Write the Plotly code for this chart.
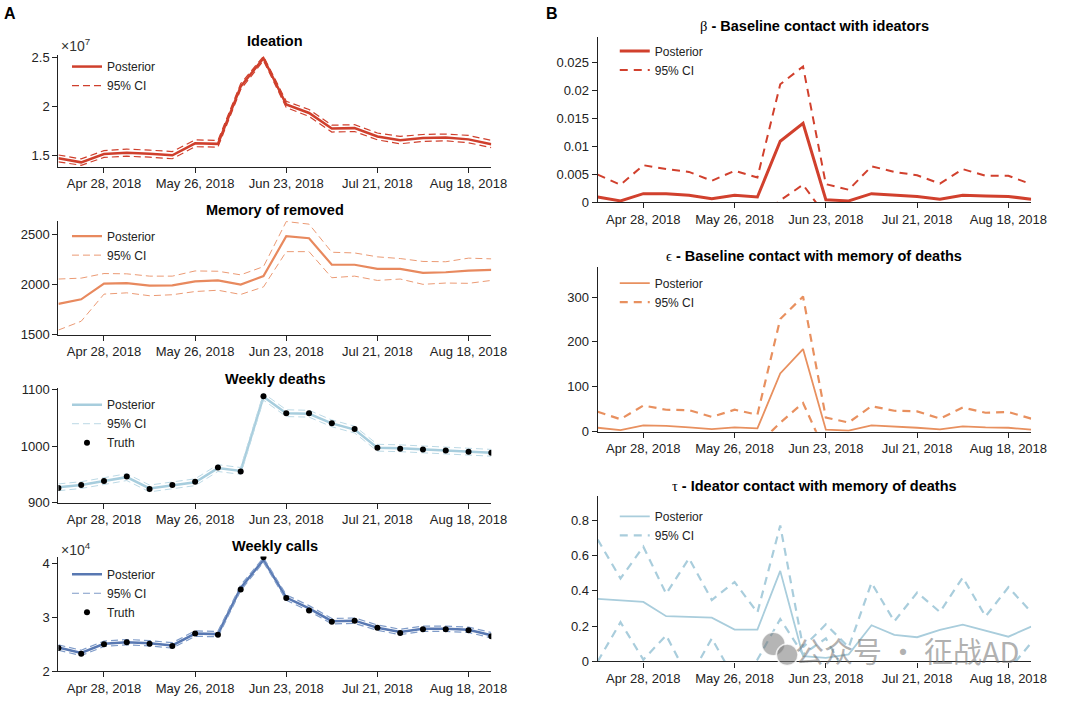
import plotly.graph_objects as go

W, H = 1080, 704

# ---------------- data ----------------
dates = ["2018-04-14", "2018-04-21", "2018-04-28", "2018-05-05", "2018-05-12",
         "2018-05-19", "2018-05-26", "2018-06-02", "2018-06-09", "2018-06-16",
         "2018-06-23", "2018-06-30", "2018-07-07", "2018-07-14", "2018-07-21",
         "2018-07-28", "2018-08-04", "2018-08-11", "2018-08-18", "2018-08-25"]
tick_dates = ["2018-04-28", "2018-05-26", "2018-06-23", "2018-07-21", "2018-08-18"]

# Ideation (units of 1e7)
ideation_post = [1.467, 1.425, 1.510, 1.523, 1.513, 1.497, 1.620, 1.614, 2.200, 2.490,
                 2.017, 1.930, 1.770, 1.775, 1.690, 1.650, 1.675, 1.680, 1.660, 1.610]
ideation_hi = [1.500, 1.460, 1.545, 1.560, 1.550, 1.535, 1.655, 1.650, 2.230, 2.510,
               2.050, 1.965, 1.805, 1.810, 1.725, 1.690, 1.710, 1.715, 1.700, 1.650]
ideation_lo = [1.430, 1.395, 1.475, 1.488, 1.478, 1.462, 1.585, 1.580, 2.170, 2.465,
               1.985, 1.895, 1.735, 1.740, 1.655, 1.615, 1.640, 1.645, 1.625, 1.575]

# Memory of removed
memory_post = [1807, 1853, 2010, 2016, 1990, 1993, 2033, 2042, 2000, 2085,
               2484, 2464, 2199, 2199, 2157, 2157, 2118, 2124, 2140, 2147]
memory_hi = [2056, 2065, 2111, 2108, 2085, 2085, 2137, 2134, 2098, 2180,
             2631, 2605, 2324, 2317, 2278, 2261, 2232, 2229, 2265, 2258]
memory_lo = [1546, 1634, 1905, 1918, 1889, 1899, 1931, 1944, 1902, 1977,
             2330, 2330, 2069, 2085, 2042, 2056, 2003, 2016, 2013, 2042]

# Weekly deaths
deaths_truth = [926, 931, 938, 946, 924, 931, 937, 962, 955, 1088,
                1058, 1058, 1040, 1030, 997, 995, 994, 992, 990, 988]
deaths_post = [927, 931, 938, 945, 925, 930, 936, 961, 956, 1087,
               1058, 1057, 1040, 1029, 997, 996, 994, 992, 990, 988]
deaths_hi = [933, 937, 944, 951, 931, 936, 942, 967, 962, 1093,
             1064, 1063, 1046, 1035, 1003, 1002, 1000, 998, 996, 994]
deaths_lo = [921, 925, 932, 939, 919, 924, 930, 955, 950, 1081,
             1052, 1051, 1034, 1023, 991, 990, 988, 986, 984, 982]

# Weekly calls (units of 1e4)
calls_truth = [2.43, 2.325, 2.50, 2.54, 2.51, 2.47, 2.70, 2.68, 3.52, 4.12,
               3.36, 3.13, 2.92, 2.94, 2.81, 2.71, 2.78, 2.78, 2.76, 2.65]
calls_post = [2.44, 2.34, 2.51, 2.54, 2.52, 2.48, 2.70, 2.69, 3.55, 4.07,
              3.37, 3.17, 2.93, 2.94, 2.81, 2.73, 2.79, 2.79, 2.77, 2.67]
calls_hi = [2.49, 2.39, 2.56, 2.59, 2.57, 2.53, 2.75, 2.74, 3.60, 4.11,
            3.42, 3.22, 2.98, 2.99, 2.86, 2.78, 2.84, 2.84, 2.82, 2.72]
calls_lo = [2.39, 2.29, 2.46, 2.49, 2.47, 2.43, 2.65, 2.64, 3.50, 4.03,
            3.32, 3.12, 2.88, 2.89, 2.76, 2.68, 2.74, 2.74, 2.72, 2.62]

# beta - baseline contact with ideators (lower CI at/below the 0 floor is hidden)
beta_post = [0.0009, 0.0002, 0.0015, 0.0015, 0.0012, 0.0006, 0.0012, 0.0009, 0.0109, 0.0141,
             0.0004, 0.0002, 0.0015, 0.0013, 0.0010, 0.0005, 0.0012, 0.0011, 0.0010, 0.0005]
beta_hi = [0.0049, 0.0031, 0.0066, 0.0059, 0.0054, 0.0038, 0.0056, 0.0044, 0.0211, 0.0243,
           0.0032, 0.0022, 0.0064, 0.0054, 0.0048, 0.0033, 0.0059, 0.0047, 0.0047, 0.0032]
beta_lo = [-0.0005, -0.0005, -0.0005, -0.0005, -0.0005, -0.0005, -0.0005, -0.003, 0.0003, 0.0031,
           -0.0025, -0.0005, -0.0005, -0.0005, -0.0005, -0.0005, -0.0005, -0.0005, -0.0005, -0.0005]

# epsilon - baseline contact with memory of deaths
eps_post = [8.7, 3.6, 13.8, 13.0, 9.5, 5.8, 9.5, 7.3, 129.6, 184.0,
            4.4, 2.2, 13.8, 11.7, 8.7, 5.1, 11.7, 9.5, 8.7, 4.4]
eps_hi = [44.4, 27.7, 58.3, 48.8, 48.0, 32.8, 48.8, 37.9, 251.0, 301.0,
          31.3, 20.4, 56.8, 46.6, 45.2, 29.1, 53.9, 42.2, 43.7, 29.1]
eps_lo = [-5, -5, -5, -5, -5, -5, -5, -30, 20, 64,
          -48, -5, -5, -5, -5, -5, -5, -5, -5, -5]

# tau - ideator contact with memory of deaths
tau_post = [0.354, 0.344, 0.337, 0.256, 0.250, 0.248, 0.180, 0.180, 0.513, 0.030,
            0.020, 0.040, 0.205, 0.150, 0.137, 0.178, 0.208, 0.174, 0.140, 0.197]
tau_hi = [0.690, 0.470, 0.650, 0.383, 0.584, 0.348, 0.450, 0.277, 0.770, 0.080,
          0.210, 0.080, 0.445, 0.227, 0.390, 0.280, 0.476, 0.255, 0.420, 0.280]
tau_lo = [0.000, 0.222, 0.010, 0.148, -0.100, 0.130, -0.100, 0.010, 0.240, 0.040,
          0.130, -0.100, -0.100, -0.100, -0.100, -0.100, -0.100, -0.100, -0.050, 0.105]

# ---------------- layout helpers ----------------
FONT = "Liberation Sans, Arial, Helvetica, sans-serif"
AXC = "#222222"

fig = go.Figure()
layout = dict(width=W, height=H, margin=dict(l=0, r=0, t=0, b=0),
              paper_bgcolor="white", plot_bgcolor="white",
              font=dict(family=FONT, color=AXC, size=13),
              showlegend=True, annotations=[], shapes=[])


def px_x(p):
    return p / W


def px_y(p):
    return 1 - p / H


def add_panel(n, left, right, top, bottom, yrange, ytickvals, yticktext,
              post, hi, lo, color, ci_color, post_w, ci_w, ci_dash,
              title, title_y, legend_x, legend_y, truth=None):
    xa = "xaxis" if n == 1 else f"xaxis{n}"
    ya = "yaxis" if n == 1 else f"yaxis{n}"
    xr = "x" if n == 1 else f"x{n}"
    yr = "y" if n == 1 else f"y{n}"
    lg = "legend" if n == 1 else f"legend{n}"
    layout[xa] = dict(domain=[px_x(left), px_x(right)], anchor=yr,
                      range=[dates[0], dates[-1]], type="date",
                      tickvals=tick_dates, tickformat="%b %d, %Y",
                      showgrid=False, zeroline=False, showline=True,
                      linecolor=AXC, linewidth=1.3, ticks="outside",
                      ticklen=5, tickwidth=1.3, tickcolor=AXC,
                      tickfont=dict(size=13, color=AXC, family=FONT))
    layout[ya] = dict(domain=[px_y(bottom), px_y(top)], anchor=xr,
                      range=yrange, tickvals=ytickvals, ticktext=yticktext,
                      showgrid=False, zeroline=False, showline=True,
                      linecolor=AXC, linewidth=1.3, ticks="outside",
                      ticklen=5, tickwidth=1.3, tickcolor=AXC,
                      tickfont=dict(size=13, color=AXC, family=FONT))
    layout[lg] = dict(x=px_x(legend_x), y=px_y(legend_y), xanchor="left",
                      yanchor="top", bgcolor="rgba(0,0,0,0)",
                      font=dict(size=12, color=AXC, family=FONT),
                      itemwidth=30, tracegroupgap=0)
    fig.add_trace(go.Scatter(x=dates, y=post, mode="lines", name="Posterior",
                             line=dict(color=color, width=post_w),
                             xaxis=xr, yaxis=yr, legend=lg, showlegend=True))
    fig.add_trace(go.Scatter(x=dates, y=hi, mode="lines", name="95% CI",
                             line=dict(color=ci_color, width=ci_w, dash=ci_dash),
                             xaxis=xr, yaxis=yr, legend=lg, showlegend=True))
    fig.add_trace(go.Scatter(x=dates, y=lo, mode="lines", name="95% CI",
                             line=dict(color=ci_color, width=ci_w, dash=ci_dash),
                             xaxis=xr, yaxis=yr, legend=lg, showlegend=False))
    if truth is not None:
        fig.add_trace(go.Scatter(x=dates, y=truth, mode="markers", name="Truth",
                                 marker=dict(color="black", size=6),
                                 xaxis=xr, yaxis=yr, legend=lg, showlegend=True))
    layout["annotations"].append(dict(
        x=px_x((left + right) / 2), y=px_y(title_y), xref="paper", yref="paper",
        text=title, showarrow=False, xanchor="center", yanchor="middle",
        font=dict(size=14.5, color="black", family=FONT)))


LL, LR = 59.3, 498.7
RL, RR = 606.7, 1046.7

add_panel(1, LL, LR, 50, 164, [1.38, 2.523], [1.5, 2, 2.5], ["1.5", "2", "2.5"],
          ideation_post, ideation_hi, ideation_lo, "#cf3f2c", "#cf3f2c", 2.5, 1.2, "7px,4px",
          "<b>Ideation</b>", 36, 68, 47)
add_panel(2, LL, LR, 219, 335.3, [1500, 2640], [1500, 2000, 2500], ["1500", "2000", "2500"],
          memory_post, memory_hi, memory_lo, "#e8895e", "#eb9a74", 2.2, 1.0, "7px,4px",
          "<b>Memory of removed</b>", 208, 68, 220)
add_panel(3, LL, LR, 390, 506.7, [900, 1102], [900, 1000, 1100], ["900", "1000", "1100"],
          deaths_post, deaths_hi, deaths_lo, "#a7cddd", "#bcd9e5", 2.5, 1.0, "7px,4px",
          "<b>Weekly deaths</b>", 381, 68, 392, truth=deaths_truth)
add_panel(4, LL, LR, 561.7, 678.7, [2, 4.133], [2, 3, 4], ["2", "3", "4"],
          calls_post, calls_hi, calls_lo, "#5878b2", "#7f9bc8", 2.5, 1.2, "7px,4px",
          "<b>Weekly calls</b>", 551, 68, 565, truth=calls_truth)
add_panel(5, RL, RR, 31.7, 200, [0, 0.02957], [0, 0.005, 0.01, 0.015, 0.02, 0.025],
          ["0", "0.005", "0.01", "0.015", "0.02", "0.025"],
          beta_post, beta_hi, beta_lo, "#d1402d", "#d1402d", 3.0, 2.0, "8px,6px",
          "<span style='font-family:Liberation Serif, serif'>β</span><b> - Baseline contact with ideators</b>",
          20, 624, 31)
add_panel(6, RL, RR, 266.7, 434.3, [0, 366], [0, 100, 200, 300], ["0", "100", "200", "300"],
          eps_post, eps_hi, eps_lo, "#e8905f", "#e8905f", 1.8, 2.2, "8px,6px",
          "<span style='font-family:Liberation Serif, serif'>ϵ</span><b> - Baseline contact with memory of deaths</b>",
          255, 624, 268)
add_panel(7, RL, RR, 500, 668.7, [0, 0.937], [0, 0.2, 0.4, 0.6, 0.8],
          ["0", "0.2", "0.4", "0.6", "0.8"],
          tau_post, tau_hi, tau_lo, "#a9cddc", "#a9cddc", 1.8, 2.2, "8px,6px",
          "<span style='font-family:Liberation Serif, serif'>τ</span><b> - Ideator contact with memory of deaths</b>",
          490, 624, 506)

# exponent labels and panel letters
for txt, xx, yy in [("×10<sup>7</sup>", 60, 40), ("×10<sup>4</sup>", 60, 554)]:
    layout["annotations"].append(dict(x=px_x(xx), y=px_y(yy), xref="paper", yref="paper",
                                      text=txt, showarrow=False, xanchor="left",
                                      yanchor="middle", font=dict(size=14, color="#333")))
for txt, xx in [("<b>A</b>", 2), ("<b>B</b>", 552)]:
    layout["annotations"].append(dict(x=px_x(xx), y=px_y(8), xref="paper", yref="paper",
                                      text=txt, showarrow=False, xanchor="left",
                                      yanchor="middle", font=dict(size=16, color="black")))

# watermark present in the reference image
layout["annotations"].append(dict(x=px_x(921), y=px_y(657), xref="paper", yref="paper",
                                  text="公众号 · 征战AD", showarrow=False,
                                  xanchor="center", yanchor="middle",
                                  font=dict(size=29, color="rgba(110,110,110,0.55)",
                                            family="Noto Sans CJK SC")))
for cx, cy, r in [(785, 651, 12), (799, 662, 11)]:
    layout["shapes"].append(dict(type="circle", xref="paper", yref="paper",
                                 x0=px_x(cx - r), x1=px_x(cx + r),
                                 y0=px_y(cy + r), y1=px_y(cy - r),
                                 fillcolor="rgba(120,120,120,0.55)",
                                 line=dict(width=1.5, color="rgba(255,255,255,0.8)")))

fig.update_layout(**layout)
fig.write_html("out.html", config={"displayModeBar": False},
               post_script="document.body.style.margin='0';document.body.style.overflow='hidden';")
